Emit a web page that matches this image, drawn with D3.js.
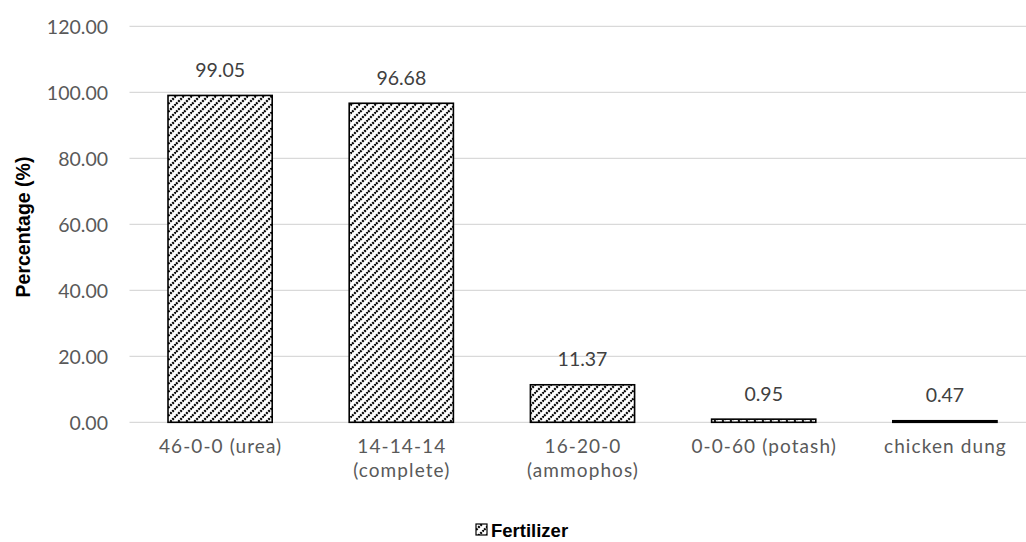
<!DOCTYPE html>
<html>
<head>
<meta charset="utf-8">
<script src="https://cdn.jsdelivr.net/npm/d3@7"></script>
<style>
  html, body { margin: 0; padding: 0; background: #fff; }
  svg { display: block; font-family: Lato, "Open Sans", sans-serif; }
</style>
</head>
<body>
<svg id="chart" width="1026" height="542"></svg>
<script>
const categories = [["46-0-0 (urea)"], ["14-14-14", "(complete)"], ["16-20-0", "(ammophos)"], ["0-0-60 (potash)"], ["chicken dung"]];
const values = [99.05, 96.68, 11.37, 0.95, 0.47];
const valueLabels = ["99.05", "96.68", "11.37", "0.95", "0.47"];
const yTicks = [0, 20, 40, 60, 80, 100, 120];
const seriesName = "Fertilizer";
const yTitle = "Percentage (%)";

const svg = d3.select("#chart");
const defs = svg.append("defs");
const pat = defs.append("pattern")
  .attr("id", "diag").attr("patternUnits", "userSpaceOnUse")
  .attr("width", 8).attr("height", 8);
pat.append("rect").attr("width", 8).attr("height", 8).attr("fill", "#fff");
pat.append("path").attr("d", "M-2,10 L10,-2 M-2,2 L2,-2 M6,10 L10,6")
  .attr("stroke", "#000").attr("stroke-width", 2.2).attr("stroke-dasharray", "2,1");

const left = 129.5, right = 1035.5, y0 = 422.3, yTop = 26.3;
const x = d3.scaleBand().domain(d3.range(categories.length)).range([left, right])
  .paddingInner(0.425).paddingOuter(0.2125);
const y = d3.scaleLinear().domain([0, 120]).range([y0, yTop]);

// gridlines
svg.append("g").selectAll("line").data(yTicks).join("line")
  .attr("x1", left).attr("x2", 1026)
  .attr("y1", d => y(d)).attr("y2", d => y(d))
  .attr("stroke", "#d9d9d9").attr("stroke-width", 1.3);

// y axis labels
const yAxis = d3.axisLeft(y).tickValues(yTicks).tickFormat(d3.format(".2f")).tickSize(0).tickPadding(0);
const gy = svg.append("g").attr("transform", `translate(108,0)`).call(yAxis);
gy.select(".domain").remove();
gy.selectAll("text").attr("font-size", 19.5).attr("fill", "#595959")
  .attr("font-family", "Lato, sans-serif").attr("dy", "0.36em");

// bars
svg.append("g").selectAll("rect").data(values).join("rect")
  .attr("x", (d, i) => x(i)).attr("width", x.bandwidth())
  .attr("y", d => y(d)).attr("height", d => y0 - y(d))
  .attr("fill", "url(#diag)").attr("stroke", "#000").attr("stroke-width", 1.6);

// value labels
svg.append("g").selectAll("text").data(values).join("text")
  .attr("x", (d, i) => x(i) + x.bandwidth() / 2)
  .attr("y", d => y(d) - 18.5)
  .attr("text-anchor", "middle").attr("font-size", 19.5).attr("fill", "#404040")
  .text((d, i) => valueLabels[i]);

// category labels
const xAxis = d3.axisBottom(x).tickSize(0).tickFormat(() => "");
const gx = svg.append("g").attr("transform", `translate(0,${y0})`).call(xAxis);
gx.select(".domain").remove();
gx.selectAll(".tick").each(function(d) {
  categories[d].forEach((line, j) => {
    d3.select(this).append("text").attr("text-anchor", "middle")
      .attr("font-size", 19).attr("fill", "#595959").attr("font-family", "Lato, sans-serif")
      .attr("letter-spacing", 1.1)
      .attr("x", 0.5).attr("y", 31 + j * 23.5).text(line);
  });
});

// y title
svg.append("text").attr("transform", "translate(30,227) rotate(-90)")
  .attr("text-anchor", "middle").attr("font-size", 19.5).attr("font-weight", "bold")
  .attr("font-family", "'Liberation Sans', Arial, sans-serif")
  .attr("fill", "#000").text(yTitle);

// legend
const lg = svg.append("g").attr("transform", "translate(476,530)");
lg.append("rect").attr("x", 0).attr("y", -6).attr("width", 11).attr("height", 11)
  .attr("fill", "url(#diag)").attr("stroke", "#000").attr("stroke-width", 1.2);
lg.append("text").attr("x", 15).attr("y", 6.5).attr("font-size", 18.5).attr("font-weight", "bold")
  .attr("font-family", "'Liberation Sans', Arial, sans-serif")
  .attr("fill", "#000").text(seriesName);
</script>
</body>
</html>
